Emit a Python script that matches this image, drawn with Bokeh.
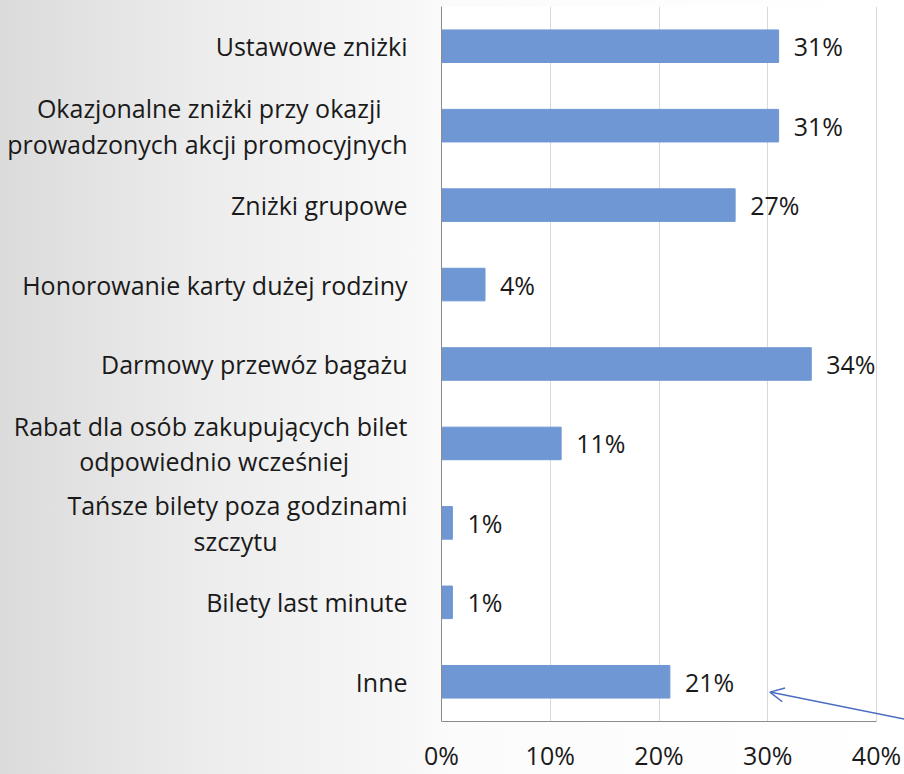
from bokeh.plotting import figure
from bokeh.models import Range1d, FixedTicker, LabelSet, ColumnDataSource, Arrow, OpenHead, CustomJSTickFormatter
from bokeh.core.properties import value
from bokeh.embed import file_html
from bokeh.resources import INLINE

categories = [
    "Ustawowe zniżki",
    "Okazjonalne zniżki przy okazji\nprowadzonych akcji promocyjnych",
    "Zniżki grupowe",
    "Honorowanie karty dużej rodziny",
    "Darmowy przewóz bagażu",
    "Rabat dla osób zakupujących bilet\nodpowiednio wcześniej",
    "Tańsze bilety poza godzinami\nszczytu",
    "Bilety last minute",
    "Inne",
]
values = [31, 31, 27, 4, 34, 11, 1, 1, 21]
x_ticks = [0, 10, 20, 30, 40]

FONT = "Open Sans"
FS = "25px"

# visual centring of the two-line labels: (line index, no-break spaces appended)
center_pad = {1: (0, 4), 5: (1, 9), 6: (1, 20)}

def tick_label(i, text):
    if i not in center_pad:
        return text
    line, n = center_pad[i]
    lines = text.split("\n")
    lines[line] = lines[line] + "\u00a0" * n
    return "\n".join(lines)

pos = list(range(len(categories)))
src = ColumnDataSource(dict(y=pos, v=values, lab=[f"{v}%" for v in values]))

# frame spans 441..904 px; 0..40 % spans 441..876 px
x_end = 40 * (904 - 441) / (876 - 441)

p = figure(width=904, height=774, output_backend="svg", toolbar_location=None,
           x_range=Range1d(0, x_end), y_range=Range1d(len(categories) - 0.5, -0.5),
           min_border_left=441, min_border_right=0, min_border_top=6, min_border_bottom=53)
p.styles = {"background": "linear-gradient(90deg, #dbdbdb 0%, #ececec 22%, #f7f7f7 45%, #fbfbfb 50%, #ffffff 100%)"}
p.border_fill_alpha = 0
p.background_fill_color = "white"
p.outline_line_color = None

p.hbar(y="y", right="v", left=0, height=0.41, source=src, color="#6F97D4")

labels = LabelSet(x="v", y="y", text="lab", source=src, x_offset=15, text_baseline="middle",
                  text_font=value(FONT), text_font_size=value(FS), text_color="#1a1a1a")
p.add_layout(labels)

p.add_layout(Arrow(end=OpenHead(size=14, line_color="#4A6CC0", line_width=1.5),
                   x_start=x_end, y_start=8.47, x_end=30.2, y_end=8.13,
                   line_color="#4A6CC0", line_width=1.5))

p.xaxis.ticker = FixedTicker(ticks=x_ticks)
p.xaxis.bounds = (0, 40)
p.xaxis.formatter = CustomJSTickFormatter(code="return tick + '%';")
p.yaxis.ticker = FixedTicker(ticks=pos)
p.yaxis.major_label_overrides = {i: tick_label(i, c) for i, c in enumerate(categories)}

for ax in (p.xaxis[0], p.yaxis[0]):
    ax.axis_line_color = "#8c8c8c"
    ax.axis_line_width = 1
    ax.major_tick_line_color = None
    ax.minor_tick_line_color = None
    ax.major_label_text_font = FONT
    ax.major_label_text_font_size = FS
    ax.major_label_text_color = "#1a1a1a"
p.xaxis.major_label_standoff = 10
p.yaxis.major_label_standoff = 28
p.yaxis.major_label_text_line_height = 1.05

p.xgrid.grid_line_color = "#d9d9d9"
p.xgrid.ticker = FixedTicker(ticks=x_ticks)
p.xgrid.bounds = (0, 40)
p.ygrid.grid_line_color = None

open("out.html", "w").write(file_html(p, INLINE))
